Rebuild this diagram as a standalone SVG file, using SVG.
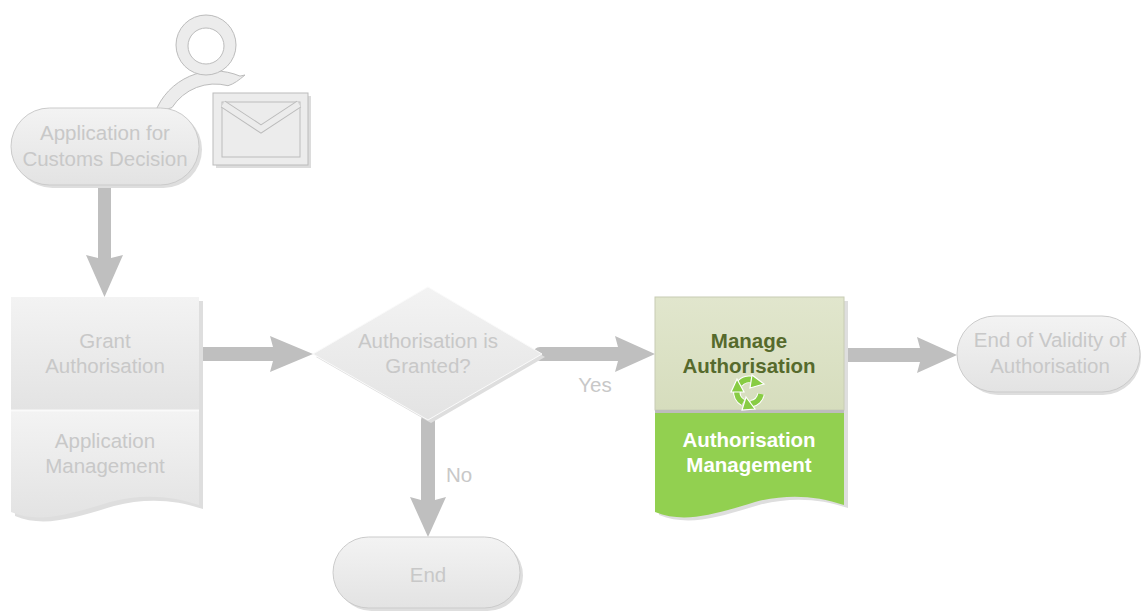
<svg xmlns="http://www.w3.org/2000/svg" width="1142" height="612" viewBox="0 0 1142 612">
<defs>
<linearGradient id="gGray" x1="0" y1="0" x2="0" y2="1">
<stop offset="0" stop-color="#f3f3f3"/><stop offset="1" stop-color="#e3e3e3"/>
</linearGradient>
<linearGradient id="gOlive" x1="0" y1="0" x2="0" y2="1">
<stop offset="0" stop-color="#e1e6cd"/><stop offset="1" stop-color="#d6ddbd"/>
</linearGradient>
<style>
.t{font-family:"Liberation Sans",Arial,sans-serif;font-size:20.5px;text-anchor:middle;fill:#c8c8c8}
.tb{font-family:"Liberation Sans",Arial,sans-serif;font-size:20.5px;font-weight:bold;text-anchor:middle}
.node{fill:url(#gGray);stroke:#cbcbcb;stroke-width:1}
.shadow{fill:#dedede}
.arrow{fill:#bfbfbf}
.icon{fill:#ececec;stroke:#bcbcbc;stroke-width:1}
.cyc{fill:none;stroke:#88cc44;stroke-width:5.5}
.cycw{fill:none;stroke:#ffffff;stroke-width:7.5}
</style>
</defs>
<rect width="1142" height="612" fill="#ffffff"/>

<g id="connectors">
<path class="arrow" d="M98,185 H111 V258 L123,255 L104.5,297 L86,255 L98,258 Z"/>
<path class="arrow" d="M199,347 H273 L270,336 L313,354 L270,372 L273,361 H199 Z"/>
<path class="arrow" d="M540,347 H618 L615,336 L655,354 L615,372 L618,361 H540 A7,7 0 0 1 540,347 Z"/>
<path class="arrow" d="M421,420 A7,7 0 0 1 435,420 V500 L446,497 L428,537 L410,497 L421,500 Z"/>
<path class="arrow" d="M844,348 H920 L917,337 L957,355 L917,373 L920,362 H844 Z"/>
<text class="t" x="595" y="392">Yes</text>
<text class="t" x="459" y="482">No</text>
</g>

<g id="icon-person">
<path class="icon" d="M155,112.7 A64,64 0 0 1 240,76.1 L245,75 C239,80 234,84 228,85.7 A51,51 0 0 0 172,107.6 Z"/>
<path class="icon" fill-rule="evenodd" d="M176,45 A30,30 0 1 0 236,45 A30,30 0 1 0 176,45 Z M188,46 A18,18 0 1 1 224,46 A18,18 0 1 1 188,46 Z"/>
</g>
<g id="icon-envelope">
<rect x="216" y="96" width="95" height="72" fill="#dcdcdc"/>
<rect x="213" y="93" width="95" height="72" class="icon"/>
<rect x="222" y="102" width="78" height="55" class="icon"/>
<polyline points="223,104 261,129 299,104" fill="none" stroke="#bcbcbc" stroke-width="8"/>
<polyline points="223,104 261,129 299,104" fill="none" stroke="#ececec" stroke-width="6"/>
</g>

<g id="node-application">
<rect x="14" y="111" width="188" height="77" rx="38.5" class="shadow"/>
<rect x="11" y="108" width="188" height="77" rx="38.5" class="node"/>
<text class="t" x="105" y="140">Application for</text>
<text class="t" x="105" y="166">Customs Decision</text>
</g>

<g id="node-grant">
<path class="shadow" d="M15,301 H203 V509 C174,499 144,498 114,506 C74,518 44,528 15,516 Z"/>
<rect x="11" y="297" width="188" height="113" fill="url(#gGray)"/>
<path d="M11,411 H199 V505 C170,495 140,494 110,502 C70,514 40,524 11,512 Z" fill="url(#gGray)"/>
<line x1="11" y1="410.5" x2="199" y2="410.5" stroke="#fafafa" stroke-width="2"/>
<text class="t" x="105" y="348">Grant</text>
<text class="t" x="105" y="373">Authorisation</text>
<text class="t" x="105" y="448">Application</text>
<text class="t" x="105" y="473">Management</text>
</g>

<g id="node-decision">
<polygon points="316,357 431,290 545,357 431,423" class="shadow"/>
<polygon points="313,354 428,287 542,354 428,420" fill="url(#gGray)" stroke="#fafafa" stroke-width="1"/>
<text class="t" x="428" y="348">Authorisation is</text>
<text class="t" x="428" y="373">Granted?</text>
</g>

<g id="node-end">
<rect x="336" y="540" width="187" height="71" rx="35.5" class="shadow"/>
<rect x="333" y="537" width="187" height="71" rx="35.5" class="node" stroke="#fafafa"/>
<text class="t" x="428" y="582">End</text>
</g>

<g id="node-manage">
<path class="shadow" d="M659,301 H848 V508 C819,498 789,497 759,505 C719,517 689,527 659,515 Z"/>
<rect x="655" y="297" width="189" height="113" fill="url(#gOlive)" stroke="#c8ccb4" stroke-width="1"/>
<rect x="655" y="410" width="189" height="3" fill="#bdbdbd"/>
<path d="M655,413 H844 V505 C815,495 785,494 755,502 C715,514 685,524 655,512 Z" fill="#92d050"/>
<text class="tb" x="749" y="348" fill="#566a2c">Manage</text>
<text class="tb" x="749" y="373" fill="#566a2c">Authorisation</text>
<g id="icon-cycle">
<path class="cycw" d="M739.5,384 A12,12 0 0 1 754,380.5"/>
<path class="cycw" d="M761,394 A12,12 0 0 1 751,403.8"/>
<path class="cycw" d="M743,402.5 A12,12 0 0 1 737,390"/>
<path class="cyc" d="M739.5,384 A12,12 0 0 1 754,380.5"/>
<path class="cyc" d="M761,394 A12,12 0 0 1 751,403.8"/>
<path class="cyc" d="M743,402.5 A12,12 0 0 1 737,390"/>
<polygon points="752,375 764,384 750,388" fill="#88cc44" stroke="#ffffff" stroke-width="1.2"/>
<polygon points="755,409 742,410 746,397" fill="#88cc44" stroke="#ffffff" stroke-width="1.2"/>
<polygon points="731,392 737,379 744,392" fill="#88cc44" stroke="#ffffff" stroke-width="1.2"/>
</g>
<text class="tb" x="749" y="447" fill="#ffffff">Authorisation</text>
<text class="tb" x="749" y="472" fill="#ffffff">Management</text>
</g>

<g id="node-end-validity">
<rect x="960" y="319" width="181" height="76" rx="38" class="shadow"/>
<rect x="957" y="316" width="183" height="76" rx="38" class="node"/>
<text class="t" x="1050" y="347">End of Validity of</text>
<text class="t" x="1050" y="373">Authorisation</text>
</g>
</svg>
